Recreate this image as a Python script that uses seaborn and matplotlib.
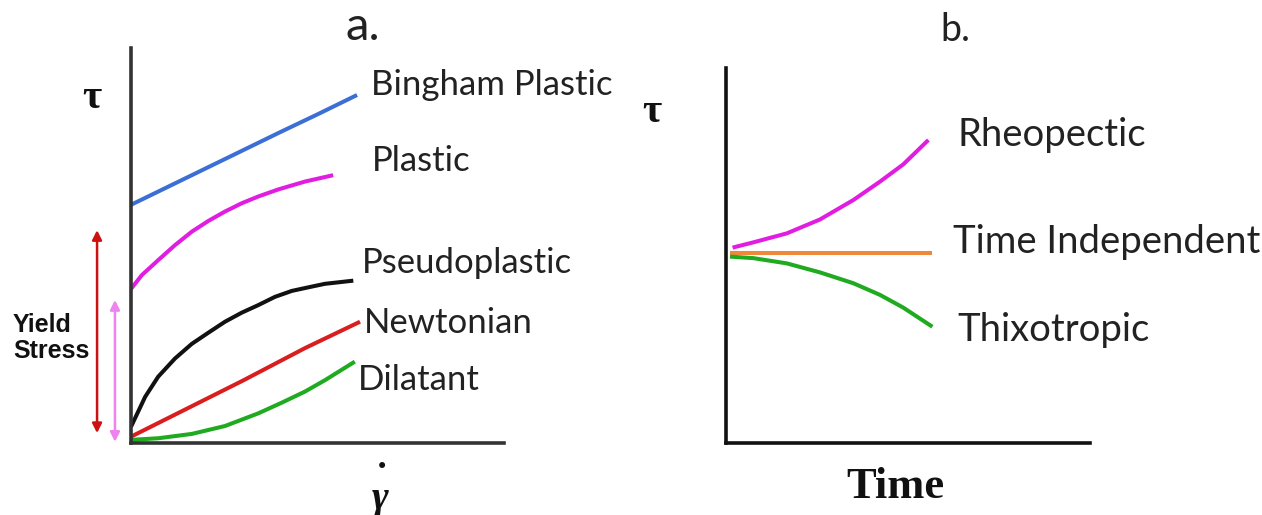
import matplotlib
matplotlib.use("Agg")
import matplotlib.pyplot as plt
import seaborn as sns

# ---- panel a: shear stress vs shear rate ----
bingham_x = [0.0, 1.0, 2.0, 3.0, 4.0, 5.0, 6.06]
bingham_y = [6.03, 6.49, 6.95, 7.41, 7.87, 8.32, 8.81]

plastic_x = [0.0, 0.29, 0.73, 1.18, 1.63, 2.07, 2.52, 2.97, 3.41, 3.95, 4.67, 5.42]
plastic_y = [3.90, 4.25, 4.63, 5.01, 5.35, 5.62, 5.86, 6.07, 6.24, 6.42, 6.62, 6.78]

pseudo_x = [0.0, 0.38, 0.73, 1.18, 1.63, 2.07, 2.52, 2.97, 3.41, 3.86, 4.31, 4.75, 5.20, 5.96]
pseudo_y = [0.41, 1.17, 1.68, 2.14, 2.51, 2.79, 3.07, 3.30, 3.49, 3.70, 3.85, 3.94, 4.03, 4.11]

newton_x = [0.0, 3.0, 4.66, 6.14]
newton_y = [0.16, 1.58, 2.40, 3.07]

dilatant_x = [0.0, 0.73, 1.63, 2.52, 3.41, 4.04, 4.66, 5.20, 6.0]
dilatant_y = [0.08, 0.12, 0.23, 0.43, 0.75, 1.02, 1.30, 1.59, 2.06]

# ---- panel b: shear stress vs time ----
rheo_x = [0.18, 0.75, 1.67, 2.58, 3.50, 4.23, 4.87, 5.56]
rheo_y = [5.21, 5.35, 5.59, 5.96, 6.48, 6.97, 7.43, 8.08]

indep_x = [0.11, 5.67]
indep_y = [5.06, 5.06]

thixo_x = [0.11, 0.75, 1.67, 2.58, 3.50, 4.23, 4.87, 5.67]
thixo_y = [4.97, 4.93, 4.79, 4.55, 4.26, 3.95, 3.61, 3.10]

# yield stress markers (bottom, top) in panel a units
yield_red = [0.25, 5.39]
yield_violet = [0.03, 3.62]

labels_a = ["Bingham Plastic", "Plastic", "Pseudoplastic", "Newtonian", "Dilatant"]
labels_b = ["Rheopectic", "Time Independent", "Thixotropic"]

sns.set_style("white")
plt.rcParams["font.family"] = ["Lato", "DejaVu Sans"]

W, H = 1262, 515
fig = plt.figure(figsize=(W / 100, H / 100), dpi=100)

def frac_x(px):
    return px / W

def frac_y(py):
    return 1 - py / H

ax_a = fig.add_axes([frac_x(131), frac_y(443), 373 / W, 395 / H])
ax_b = fig.add_axes([frac_x(726), frac_y(443), 364 / W, 375 / H])

lw = 2.9
series_a = [
    (bingham_x, bingham_y, "#3b6fd6"),
    (plastic_x, plastic_y, "#e01de0"),
    (pseudo_x, pseudo_y, "#111111"),
    (newton_x, newton_y, "#d81e1e"),
    (dilatant_x, dilatant_y, "#1faa1f"),
]
for xs, ys, c in series_a:
    sns.lineplot(x=xs, y=ys, ax=ax_a, color=c, linewidth=lw,
                 solid_capstyle="butt", solid_joinstyle="round")

series_b = [
    (rheo_x, rheo_y, "#e01de0"),
    (indep_x, indep_y, "#f0883c"),
    (thixo_x, thixo_y, "#1faa1f"),
]
for xs, ys, c in series_b:
    sns.lineplot(x=xs, y=ys, ax=ax_b, color=c, linewidth=lw,
                 solid_capstyle="butt", solid_joinstyle="round")

for ax, spine_col in ((ax_a, "#333333"), (ax_b, "#111111")):
    ax.set_xlim(0, 10)
    ax.set_ylim(0, 10)
    ax.set_xticks([])
    ax.set_yticks([])
    ax.set_xlabel("")
    ax.set_ylabel("")
    for side in ("top", "right"):
        ax.spines[side].set_visible(False)
    for side in ("left", "bottom"):
        ax.spines[side].set_color(spine_col)
        ax.spines[side].set_linewidth(2.6)
    ax.patch.set_alpha(0)

# curve labels
label_pos_a = [(6.43, 9.06), (6.46, 7.14), (6.19, 4.56), (6.25, 3.04), (6.09, 1.59)]
for txt, (x, y) in zip(labels_a, label_pos_a):
    ax_a.text(x, y, txt, fontsize=25, color="#222222", ha="left", va="center", clip_on=False)

label_pos_b = [(6.35, 8.21), (6.24, 5.36), (6.35, 3.01)]
for txt, (x, y) in zip(labels_b, label_pos_b):
    ax_b.text(x, y, txt, fontsize=27.5, color="#222222", ha="left", va="center", clip_on=False)

# yield stress double arrows
ax_a.annotate("", xy=(-0.91, yield_red[1]), xytext=(-0.91, yield_red[0]),
              annotation_clip=False,
              arrowprops=dict(arrowstyle="<|-|>", color="#cc1111", lw=1.8,
                              mutation_scale=14, shrinkA=0, shrinkB=0))
ax_a.annotate("", xy=(-0.43, yield_violet[1]), xytext=(-0.43, yield_violet[0]),
              annotation_clip=False,
              arrowprops=dict(arrowstyle="<|-|>", color="#ee82ee", lw=1.8,
                              mutation_scale=14, shrinkA=0, shrinkB=0))

fig.text(frac_x(13), frac_y(338), "Yield\nStress", fontsize=18, fontweight="bold",
         family=["Liberation Sans", "DejaVu Sans"], ha="left", va="center",
         linespacing=1.1, color="#111111")

# panel titles
fig.text(frac_x(363), frac_y(27), "a.", fontsize=34, ha="center", va="center", color="#222222")
fig.text(frac_x(955), frac_y(30), "b.", fontsize=27, ha="center", va="center", color="#222222")

# axis symbols
serif = ["Liberation Serif", "DejaVu Serif"]
fig.text(frac_x(92), frac_y(98), "τ", fontsize=30, fontweight="bold", family=serif,
         ha="center", va="center", color="#111111")
fig.text(frac_x(652), frac_y(112), "τ", fontsize=30, fontweight="bold", family=serif,
         ha="center", va="center", color="#111111")
fig.text(frac_x(380), frac_y(499), "γ", fontsize=29, fontweight="bold", style="italic",
         family=serif, ha="center", va="center", color="#111111")
fig.text(frac_x(382), frac_y(467), "•", fontsize=15, family=["DejaVu Sans"],
         ha="center", va="center", color="#111111")
fig.text(frac_x(895), frac_y(487), "Time", fontsize=32, fontweight="bold", family=serif,
         ha="center", va="center", color="#111111")

fig.savefig("out.png", dpi=100)
